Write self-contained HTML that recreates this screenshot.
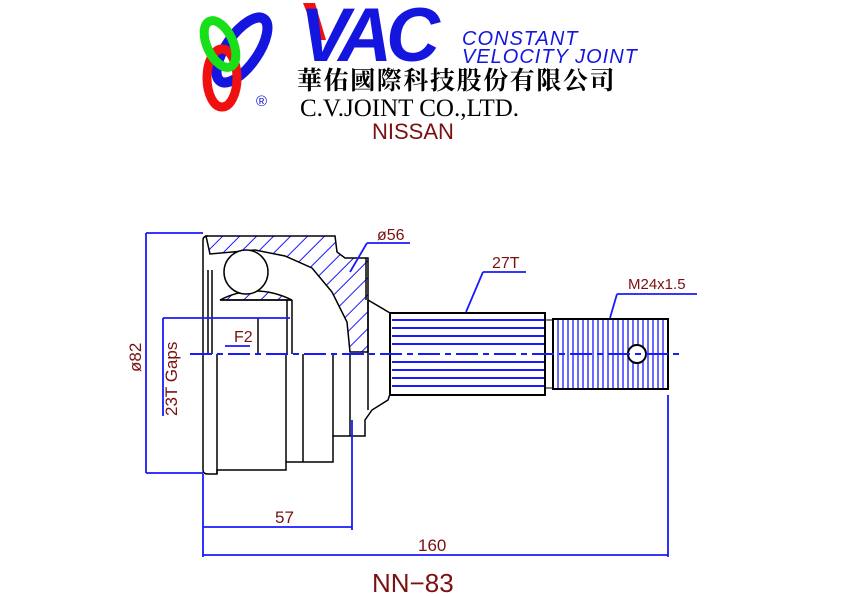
<!DOCTYPE html>
<html><head><style>
html,body{margin:0;padding:0;background:#fff}
svg{display:block}
</style></head><body>
<svg width="842" height="596" viewBox="0 0 842 596" xmlns="http://www.w3.org/2000/svg">
<defs>
<pattern id="h" width="12" height="12" patternUnits="userSpaceOnUse" patternTransform="rotate(45)">
<rect width="12" height="12" fill="#fff"/><line x1="0" y1="0" x2="0" y2="12" stroke="#1a1aff" stroke-width="2"/>
</pattern>
</defs>
<!-- logo -->
<ellipse cx="242" cy="50" rx="16" ry="38" transform="rotate(35 242 50)" fill="none" stroke="#1515e0" stroke-width="10"/>
<ellipse cx="222" cy="78" rx="15" ry="29" fill="none" stroke="#f01010" stroke-width="9"/>
<ellipse cx="220" cy="44" rx="13" ry="25" transform="rotate(-25 220 44)" fill="none" stroke="#18e018" stroke-width="9"/>
<text x="256" y="106" font-family="Liberation Sans,sans-serif" font-size="15" fill="#1515e0">®</text>
<polygon points="303,3 315,3 326,40 318,40" fill="#f01010"/>
<text x="300" y="61" font-family="Liberation Sans,sans-serif" font-weight="bold" font-style="italic" font-size="76" fill="#1515e0" transform="translate(300 0) scale(0.98 1) translate(-300 0)" letter-spacing="-6">VAC</text>
<text x="462" y="45" font-family="Liberation Sans,sans-serif" font-style="italic" font-size="20" letter-spacing="1" fill="#1515e0">CONSTANT</text>
<text x="462" y="63" font-family="Liberation Sans,sans-serif" font-style="italic" font-size="20" letter-spacing="1" fill="#1515e0">VELOCITY  JOINT</text>
<text x="297" y="89" font-family="Liberation Sans,'Noto Serif CJK SC','Noto Sans CJK TC',sans-serif" font-weight="bold" font-size="25" letter-spacing="1.6" fill="#000">華佑國際科技股份有限公司</text>
<text x="300" y="116" font-family="Liberation Serif,serif" font-size="25" fill="#000">C.V.JOINT CO.,LTD.</text>
<text x="372" y="139" font-family="Liberation Sans,sans-serif" font-size="22" fill="#7a1010">NISSAN</text>

<!-- housing hatched sections -->
<g stroke="#000" stroke-width="1.5">
<path d="M206,236 L335,236 L337,252 L345,258 L368,258 L368,352 L350,352 L347,322 L332,292 L312,268 L285,256 L255,250 L210,254 Z" fill="url(#h)"/>
<path d="M220,300 Q255,282 292,300 Z" fill="url(#h)"/>
<circle cx="246" cy="272" r="22" fill="#fff"/>
</g>
<g fill="none" stroke="#000" stroke-width="1.5">
<path d="M203,240 Q203,236 208,236 M203,240 L203,470 Q203,474 208,474 L217,474 L217,470 L286,470 L286,462 L303,462 L303,462 L333,462 L333,436 L365,436 L365,420 L372,410 L388,400 L390,394"/>
<line x1="217" y1="354" x2="217" y2="474"/>
<line x1="286" y1="354" x2="286" y2="462"/>
<line x1="303" y1="354" x2="303" y2="462"/>
<line x1="333" y1="354" x2="333" y2="436"/>
<line x1="366" y1="258" x2="366" y2="300"/>
<path d="M368,300 L385,310 L390,313"/>
<line x1="208" y1="270" x2="208" y2="354"/><line x1="212" y1="270" x2="212" y2="354"/>
<line x1="292" y1="300" x2="292" y2="354"/><line x1="287" y1="300" x2="287" y2="354"/>
<line x1="258" y1="318" x2="258" y2="354"/>
<line x1="220" y1="300" x2="292" y2="300"/>
<line x1="368" y1="300" x2="368" y2="410"/>
<line x1="350" y1="354" x2="350" y2="436"/>
</g>
<!-- shaft splines -->
<rect x="390" y="313" width="155" height="82" fill="#fff" stroke="#000" stroke-width="2"/>
<g stroke="#1a1aff" stroke-width="2">
<line x1="392" y1="320" x2="544" y2="320"/><line x1="392" y1="328" x2="544" y2="328"/><line x1="392" y1="336" x2="544" y2="336"/><line x1="392" y1="344" x2="544" y2="344"/><line x1="392" y1="362" x2="544" y2="362"/><line x1="392" y1="370" x2="544" y2="370"/><line x1="392" y1="378" x2="544" y2="378"/><line x1="392" y1="386" x2="544" y2="386"/>
</g>
<line x1="545" y1="320" x2="553" y2="320" stroke="#000"/><line x1="545" y1="388" x2="553" y2="388" stroke="#000"/>
<rect x="553" y="319" width="115" height="70" fill="#fff" stroke="#000" stroke-width="2"/>
<g stroke="#1a1aff" stroke-width="1.3">
<path d="M558,320V388M563,320V388M568,320V388M573,320V388M578,320V388M583,320V388M588,320V388M593,320V388M598,320V388M603,320V388M608,320V388M613,320V388M618,320V388M623,320V388M628,320V388M633,320V388M638,320V388M643,320V388M648,320V388M653,320V388M658,320V388M663,320V388"/>
</g>
<circle cx="637" cy="354" r="9" fill="#fff" stroke="#000" stroke-width="2"/>
<!-- centre line -->
<line x1="190" y1="354" x2="680" y2="354" stroke="#1a1aff" stroke-width="2" stroke-dasharray="22,5,6,5"/>
<!-- dimensions -->
<g stroke="#1a1aff" stroke-width="1.8" fill="none">
<path d="M146,233V473M146,233H203M146,473H203"/>
<path d="M163,318V416M163,318H290"/>
<path d="M203,474V557M203,527H352M352,420V530M203,555H668M668,395V557"/>
<path d="M367,243H410M367,243L350,272"/>
<path d="M483,272H526M483,272L466,312"/>
<path d="M617,294H697M617,294L610,318"/>
<path d="M225,346H250"/>
</g>
<g font-family="Liberation Sans,sans-serif" fill="#7a1010">
<text x="377" y="240" font-size="16">ø56</text>
<text x="492" y="268" font-size="16">27T</text>
<text x="628" y="289" font-size="15">M24x1.5</text>
<text x="234" y="342" font-size="16">F2</text>
<text x="275" y="523" font-size="17">57</text>
<text x="418" y="551" font-size="17">160</text>
<text x="372" y="592" font-size="26">NN−83</text>
<text transform="translate(141 372) rotate(-90)" font-size="17">ø82</text>
<text transform="translate(177 416) rotate(-90)" font-size="17">23T Gaps</text>
</g>
</svg>
</body></html>
